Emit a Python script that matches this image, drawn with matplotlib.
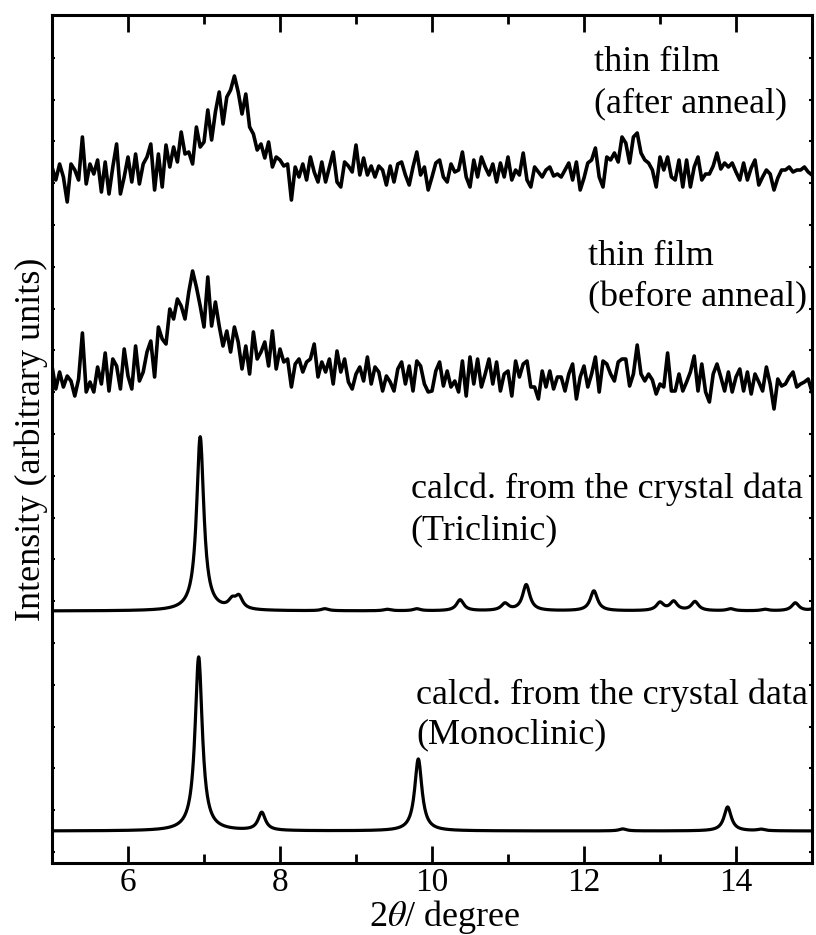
import numpy as np
import matplotlib.pyplot as plt
from matplotlib.ticker import FixedLocator

plt.rcParams['font.family'] = ['Liberation Serif', 'DejaVu Serif']
plt.rcParams['mathtext.fontset'] = 'stix'

# measured thin-film patterns, 0.05 deg step from 5 to 15 deg (heights, arb. units)
after_anneal = [5, -8, 8, -5, -30, 8, 2, -8, 35, -12,
                8, -2, 12, -20, 10, -22, 5, 28, -22, -5,
                15, -10, 18, -12, 8, 15, 28, -18, 18, -15,
                27, 5, 25, 10, 40, 18, 20, 8, 45, 25,
                30, 62, 32, 60, 80, 48, 75, 82, 96, 80,
                58, 78, 45, 38, 22, 28, 14, 30, 5, 15,
                12, 6, 8, -28, 5, -5, 8, -8, 15, 0,
                -10, 10, -10, 5, 20, -10, -15, 10, 6, 0,
                27, -3, 14, -3, 6, -5, 6, 2, -13, 6,
                -10, 8, 10, -3, -13, 5, 20, -3, 5, -18,
                -5, 9, 12, -5, -10, 8, 0, 2, 20, -5,
                -15, 12, -5, 15, 5, -3, 8, -10, 9, -5,
                15, -8, 2, -3, 19, -8, -15, 5, 0, -5,
                2, 5, -4, -2, -5, 2, 9, -8, 10, -18,
                -6, 9, 12, 24, -5, -15, 15, 12, 19, 10,
                35, 29, 9, 35, 39, 19, 12, 9, 2, -15,
                15, 2, 15, -5, -8, 12, -15, 12, -15, 5,
                15, -8, -2, -2, 6, 19, 3, 9, 5, 9,
                0, -8, 9, -8, 4, 12, -13, -5, 2, -2,
                -18, -6, 2, 2, 5, 0, 2, 2, 5, 0,
                -3]

before_anneal = [16, -7, 10, -5, 6, 1, -14, 3, 49, -10,
                 0, -10, 15, -2, 29, -9, 23, 16, -7, 33,
                 6, -7, 36, 1, 10, 30, 41, 5, 55, 43,
                 38, 73, 63, 83, 76, 63, 90, 111, 95, 76,
                 55, 105, 56, 80, 56, 36, 51, 30, 55, 40,
                 13, 36, 8, 50, 23, 30, 40, 16, 51, 13,
                 33, 20, 23, -5, 18, 23, 10, 20, 23, 38,
                 5, 20, 10, 23, -2, 31, 10, 23, 0, -7,
                 8, 15, 1, 25, -2, 15, 10, -9, 6, 0,
                 -9, 13, 20, -2, 16, -9, 21, 16, -2, -10,
                 -9, 11, 20, -4, 11, -5, 1, -10, 21, -14,
                 25, -2, 23, -5, 8, 23, -2, 20, -9, 8,
                 11, -14, 21, 5, 18, 21, -5, -5, -17, 11,
                 -5, 11, -7, 5, 5, -9, 8, 18, -17, 5,
                 16, -5, 8, 25, -10, 21, 18, 8, 1, 20,
                 23, 23, -4, 8, 37, 8, 1, 8, 2, -12,
                 -2, -5, 29, -9, -9, 8, -9, 0, 10, 26,
                 -9, 18, -10, -20, 8, 18, 5, -9, 10, -10,
                 5, 13, -9, 10, -12, 8, 0, -9, 15, -2,
                 -27, 3, -4, -2, 5, 10, -5, -2, 0, 3,
                 -10]

# calculated patterns: peak positions (deg) and heights
tri_pos = [6.95, 7.37, 7.46, 8.59, 9.41, 9.80, 10.37, 10.96, 11.24, 12.13,
           13.00, 13.18, 13.46, 13.93, 14.38, 14.78, 15.05]
tri_hgt = [174, 8, 12, 2, 1.5, 2, 11, 7, 26, 20,
           8, 9, 9, 2, 1.5, 8, 3]
mono_pos = [6.93, 7.76, 9.82, 12.51, 13.89, 14.33]
mono_hgt = [174, 18, 72, 2, 24, 1.5]
fwhm = 0.115

offsets = [691, 481, 252, 32]

two_theta = np.linspace(5, 15, 201)
fine = np.linspace(5, 15, 2001)


def calc_pattern(pos, hgt):
    y = np.zeros_like(fine)
    for p, h in zip(pos, hgt):
        y += h / (1 + ((fine - p) / (fwhm / 2)) ** 2)
    return y


fig = plt.figure(figsize=(8.16, 9.35), dpi=100)
ax = fig.add_axes([52 / 816, 72 / 935, 760 / 816, 848 / 935])

ax.plot(two_theta, np.array(after_anneal) + offsets[0], color='k', lw=2.6)
ax.plot(two_theta, np.array(before_anneal) + offsets[1], color='k', lw=2.6)
ax.plot(fine, calc_pattern(tri_pos, tri_hgt) + offsets[2], color='k', lw=2.3)
ax.plot(fine, calc_pattern(mono_pos, mono_hgt) + offsets[3], color='k', lw=2.3)

fs = 26
ax.text(12.13, 792, 'thin film', fontsize=fs)
ax.text(12.13, 751, '(after anneal)', fontsize=fs)
ax.text(12.05, 598, 'thin film', fontsize=fs)
ax.text(12.05, 557, '(before anneal)', fontsize=fs)
ax.text(9.72, 365, 'calcd. from the crystal data', fontsize=fs)
ax.text(9.72, 324, '(Triclinic)', fontsize=fs)
ax.text(9.79, 159, 'calcd. from the crystal data', fontsize=fs)
ax.text(9.79, 120, '(Monoclinic)', fontsize=fs)

ax.set_xlim(5, 15)
ax.set_ylim(0, 848)
ax.xaxis.set_major_locator(FixedLocator([6, 8, 10, 12, 14]))
ax.xaxis.set_minor_locator(FixedLocator([7, 9, 11, 13]))
ax.yaxis.set_major_locator(FixedLocator([11 + 41.8 * k for k in range(20)]))
ax.tick_params(axis='x', which='major', direction='in', top=True, length=12, width=2, labelsize=24, pad=3)
ax.tick_params(axis='x', which='minor', direction='in', top=True, length=6.5, width=2)
ax.tick_params(axis='y', direction='in', right=True, length=2.5, width=1.5, labelleft=False)
for s in ax.spines.values():
    s.set_linewidth(2.2)

ax.set_xlabel(r'2$\theta$/ degree', fontsize=fs, labelpad=0)
ax.xaxis.label.set_x(0.517)
ax.set_ylabel('Intensity (arbitrary units)', fontsize=fs, labelpad=3)

fig.savefig('out.png', dpi=100)
